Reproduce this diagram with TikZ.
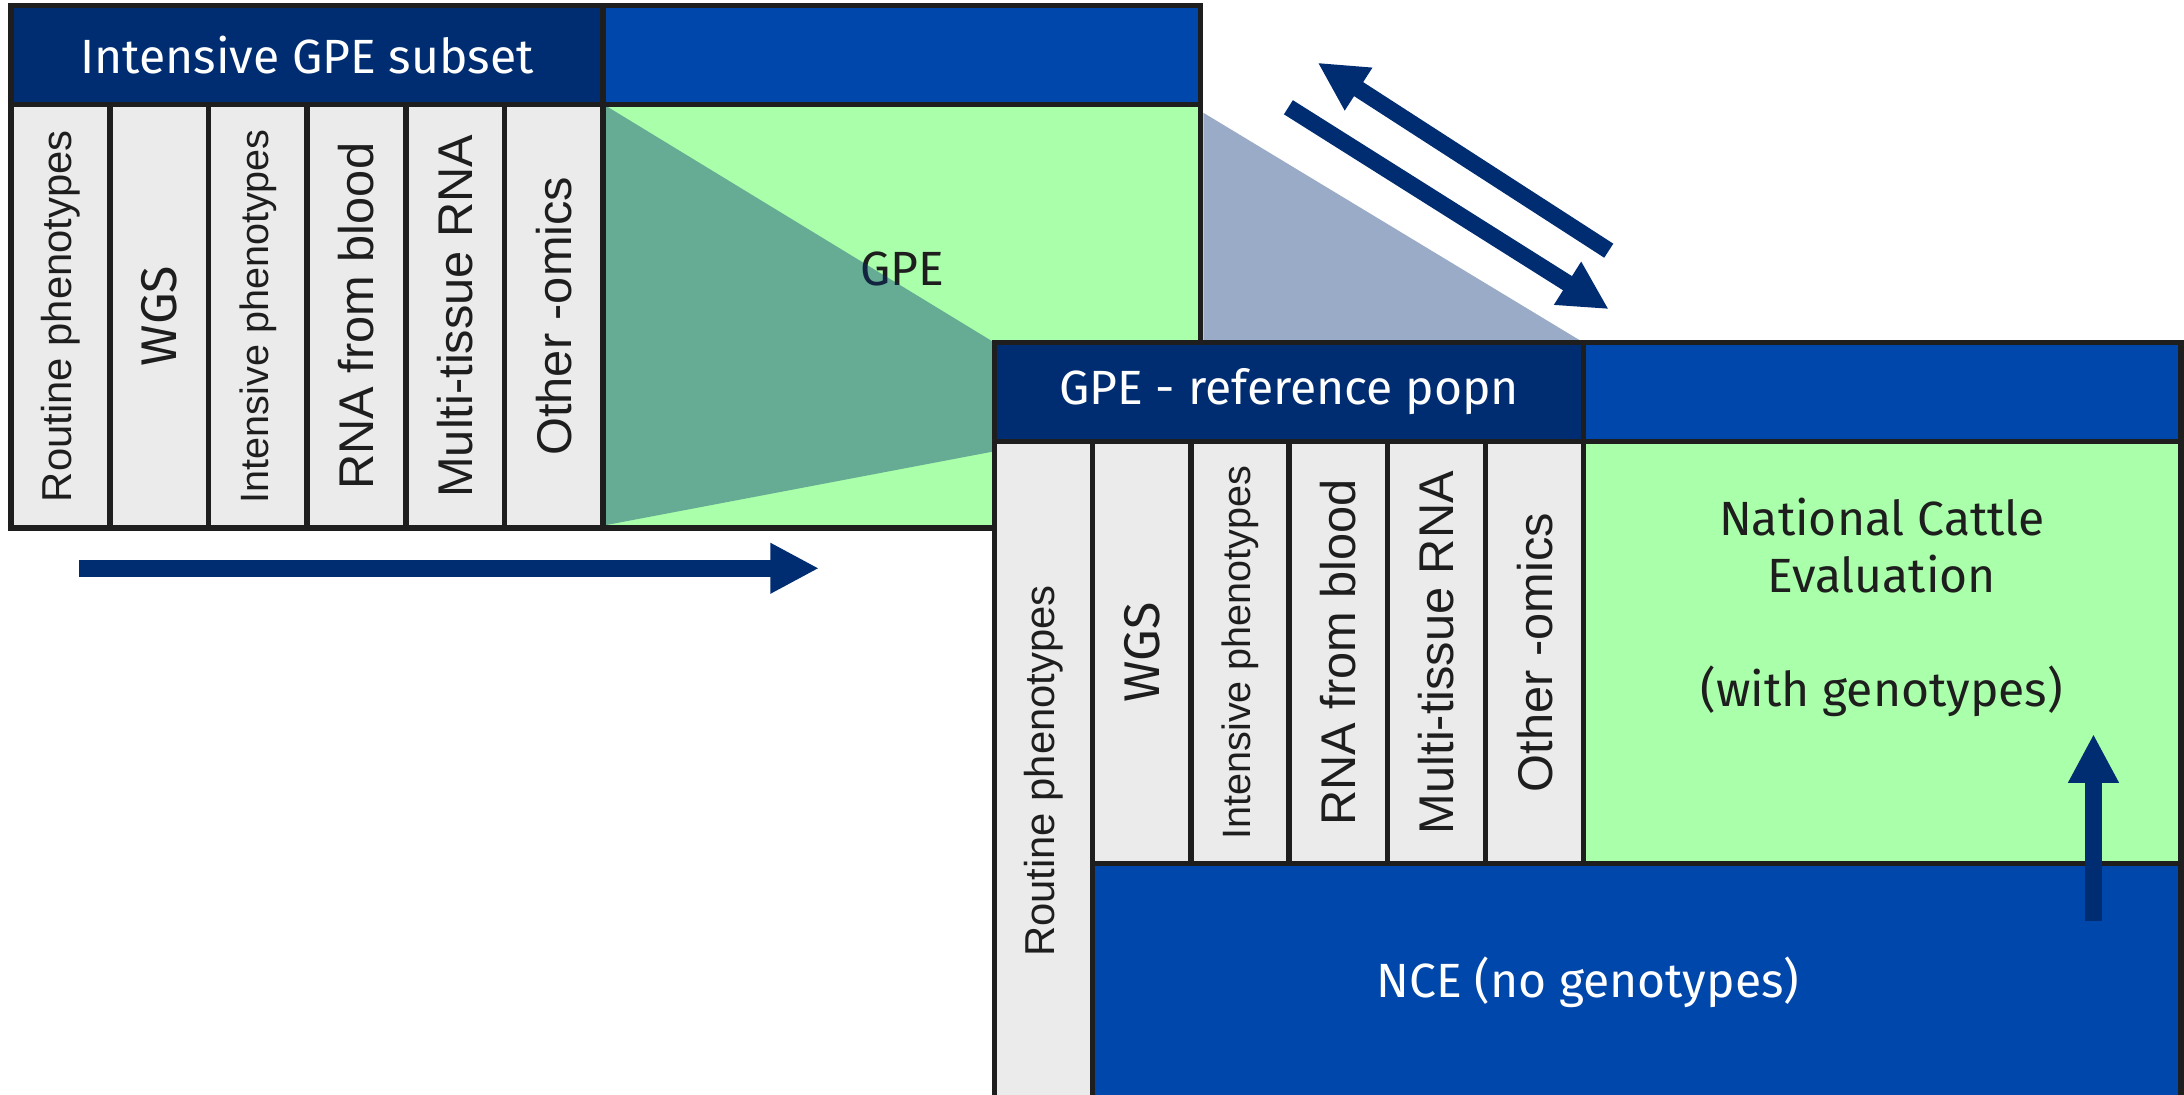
\documentclass[tikz,border=0pt]{standalone}
\usepackage{fontspec}
\setmainfont{Fira Sans}
\newfontfamily\colfont{Liberation Sans}
\usetikzlibrary{arrows.meta}
\definecolor{navy}{HTML}{002D72}
\definecolor{bblue}{HTML}{0047AB}
\definecolor{lgreen}{HTML}{AAFFAA}
\definecolor{lgray}{HTML}{EBEBEB}
\definecolor{edge}{HTML}{1E1E1E}
\begin{document}
\begin{tikzpicture}[x=1pt,y=-1pt,
  cell/.style={draw=edge, line width=4pt, rectangle, inner sep=0pt, outer sep=0pt, text=edge},
  colcell/.style={cell, fill=lgray, font=\colfont\fontsize{35}{40}\selectfont},
  fsmall/.style={font=\colfont\fontsize{30}{36}\selectfont},
  fsmaller/.style={font=\colfont\fontsize{28.4}{34}\selectfont},
  fdin/.style={font=\fontsize{36}{42}\selectfont},
  hdr/.style={cell, fill=navy, text=white, font=\fontsize{34.5}{41}\selectfont},
  bluecell/.style={cell, fill=bblue, text=white, font=\fontsize{34.5}{41}\selectfont},
  greencell/.style={cell, fill=lgreen},
  bodytext/.style={text=edge, inner sep=0pt, font=\fontsize{34.5}{41}\selectfont, align=center},
  bigarrow/.style={draw=navy, line width=12pt, -{Triangle[length=35pt,width=34pt]}},
  funnel/.style={fill=navy, fill opacity=0.4}
]
\useasboundingbox (0,0) rectangle (1568,786);
\fill[white] (0,0) rectangle (1568,786);

% ---------- Box 1 ----------
\node[hdr, minimum width=425pt, minimum height=71pt] (h1l) at (220.5,39.5) {Intensive GPE subset};
\node[bluecell, minimum width=429pt, minimum height=71pt] (h1r) at (647.5,39.5) {};
\node[greencell, minimum width=429pt, minimum height=304pt] (g1) at (647.5,227) {};
\node[colcell, fsmall, minimum width=70.83pt, minimum height=304pt] (a1) at (43.42,227) {\rotatebox{90}{Routine phenotypes}};
\node[colcell, fdin, minimum width=70.83pt, minimum height=304pt] (a2) at (114.25,227) {\rotatebox{90}{WGS}};
\node[colcell, fsmaller, minimum width=70.83pt, minimum height=304pt] (a3) at (185.08,227) {\rotatebox{90}{Intensive phenotypes}};
\node[colcell, minimum width=70.83pt, minimum height=304pt] (a4) at (255.92,227) {\rotatebox{90}{RNA from blood}};
\node[colcell, minimum width=70.83pt, minimum height=304pt] (a5) at (326.75,227) {\rotatebox{90}{Multi-tissue RNA}};
\node[colcell, minimum width=70.83pt, minimum height=304pt] (a6) at (397.58,227) {\rotatebox{90}{Other -omics}};
\node[bodytext] (gpe) at (648,193) {GPE};

% ---------- funnel ----------
\fill[funnel] (435,76) -- (714,246) -- (714,324) -- (435,377) -- cycle;
\fill[funnel] (864,81) -- (1137,246) -- (864,246) -- cycle;

% ---------- Box 2 ----------
\node[hdr, minimum width=423pt, minimum height=71pt] (h2l) at (925.5,281.5) {GPE - reference popn};
\node[bluecell, minimum width=429pt, minimum height=71pt] (h2r) at (1351.5,281.5) {};
\node[bluecell, minimum width=852pt, minimum height=170pt] (nce) at (1140,705) {NCE (no genotypes)};
\node[greencell, minimum width=429pt, minimum height=303pt] (g2) at (1351.5,468.5) {};
\node[colcell, fsmall, minimum width=70.5pt, minimum height=473pt] (b1) at (749.25,553.5) {\rotatebox{90}{Routine phenotypes}};
\node[colcell, fdin, minimum width=70.5pt, minimum height=303pt] (b2) at (819.75,468.5) {\rotatebox{90}{WGS}};
\node[colcell, fsmaller, minimum width=70.5pt, minimum height=303pt] (b3) at (890.25,468.5) {\rotatebox{90}{Intensive phenotypes}};
\node[colcell, minimum width=70.5pt, minimum height=303pt] (b4) at (960.75,468.5) {\rotatebox{90}{RNA from blood}};
\node[colcell, minimum width=70.5pt, minimum height=303pt] (b5) at (1031.25,468.5) {\rotatebox{90}{Multi-tissue RNA}};
\node[colcell, minimum width=70.5pt, minimum height=303pt] (b6) at (1101.75,468.5) {\rotatebox{90}{Other -omics}};
\node[bodytext] (ncetxt) at (1351,436) {National Cattle\\Evaluation\\[41pt](with genotypes)};

% ---------- arrows ----------
\coordinate (r0) at (57,408);
\coordinate (r1) at (588,408);
\coordinate (u0) at (1155,180);
\coordinate (u1) at (946,45);
\coordinate (d0) at (925,77);
\coordinate (d1) at (1155,222);
\coordinate (v0) at (1503,661);
\coordinate (v1) at (1503,527);
\draw[bigarrow] (r0) -- (r1);
\draw[bigarrow] (u0) -- (u1);
\draw[bigarrow] (d0) -- (d1);
\draw[bigarrow] (v0) -- (v1);
\end{tikzpicture}
\end{document}
